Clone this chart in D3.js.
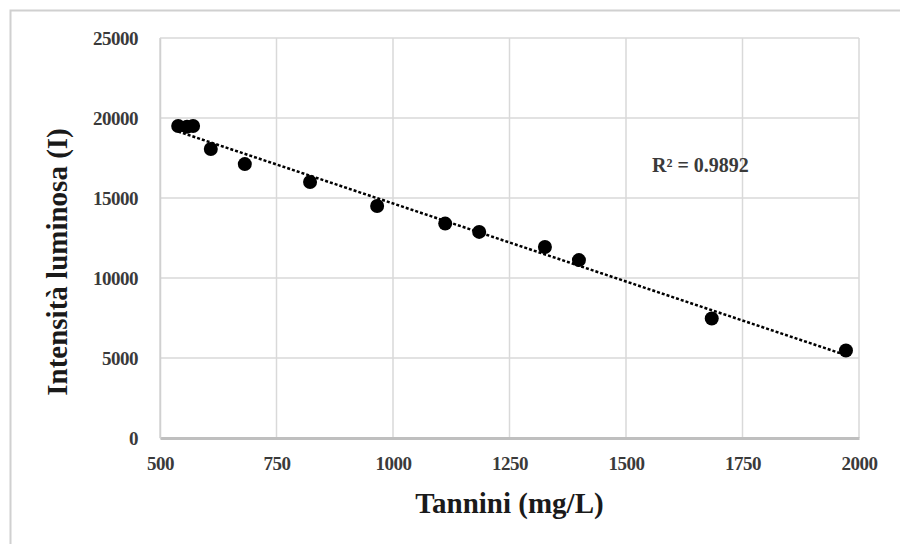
<!DOCTYPE html>
<html>
<head>
<meta charset="utf-8">
<script src="https://cdn.jsdelivr.net/npm/d3@7"></script>
<style>
  body { margin: 0; background: #fff; }
  svg { display: block; }
</style>
</head>
<body>
<div id="chart"></div>
<script>
// valori
const tannini = [539, 558, 571, 609, 682, 822, 966, 1112, 1185, 1326, 1399, 1684, 1972];
const intensita = [19500, 19450, 19500, 18060, 17120, 16000, 14500, 13400, 12880, 11940, 11120, 7470, 5470];
const xTicks = [500, 750, 1000, 1250, 1500, 1750, 2000];
const yTicks = [0, 5000, 10000, 15000, 20000, 25000];
const r2Label = "R² = 0.9892";

const width = 900, height = 544;
const plot = { left: 160, right: 859, top: 38, bottom: 438 };
const serif = "'Liberation Serif', 'Times New Roman', serif";

const svg = d3.select("#chart").append("svg")
    .attr("width", width)
    .attr("height", height);

// cornice esterna (solo lati sinistro e alto visibili)
svg.append("path")
    .attr("d", `M10.5,${height} L10.5,10.5 L${width},10.5`)
    .attr("fill", "none")
    .attr("stroke", "#d0d0d0")
    .attr("stroke-width", 2);

const x = d3.scaleLinear().domain([500, 2000]).range([plot.left, plot.right]);
const y = d3.scaleLinear().domain([0, 25000]).range([plot.bottom, plot.top]);

// griglia
svg.append("g")
    .selectAll("line")
    .data(xTicks)
    .enter().append("line")
    .attr("x1", d => x(d)).attr("x2", d => x(d))
    .attr("y1", plot.top).attr("y2", plot.bottom)
    .attr("stroke", "#d9d9d9").attr("stroke-width", 1.5);

svg.append("g")
    .selectAll("line")
    .data(yTicks)
    .enter().append("line")
    .attr("x1", plot.left).attr("x2", plot.right)
    .attr("y1", d => y(d)).attr("y2", d => y(d))
    .attr("stroke", "#d9d9d9").attr("stroke-width", 1.5);

// assi
const fmt = d3.format("d");
const xAxis = svg.append("g")
    .attr("transform", `translate(0,${plot.bottom})`)
    .call(d3.axisBottom(x).tickValues(xTicks).tickFormat(fmt).tickSize(0).tickPadding(19));
xAxis.select(".domain").attr("stroke", "#bfbfbf").attr("stroke-width", 3);

const yAxis = svg.append("g")
    .attr("transform", `translate(${plot.left},0)`)
    .call(d3.axisLeft(y).tickValues(yTicks).tickFormat(fmt).tickSize(0).tickPadding(22));
yAxis.select(".domain").attr("stroke", "#d0d0d0").attr("stroke-width", 1.5);

svg.selectAll(".tick text")
    .attr("font-family", serif)
    .attr("font-size", 19)
    .attr("font-weight", "bold")
    .attr("letter-spacing", -0.5)
    .attr("fill", "#3a3a3a");

// linea di tendenza (minimi quadrati)
const mx = d3.mean(tannini), my = d3.mean(intensita);
let sxy = 0, sxx = 0;
tannini.forEach((t, i) => { sxy += (t - mx) * (intensita[i] - my); sxx += (t - mx) * (t - mx); });
const slope = sxy / sxx, icpt = my - slope * mx;
const xMin = d3.min(tannini), xMax = d3.max(tannini);

svg.append("line")
    .attr("x1", x(xMin)).attr("y1", y(icpt + slope * xMin))
    .attr("x2", x(xMax)).attr("y2", y(icpt + slope * xMax))
    .attr("stroke", "#000")
    .attr("stroke-width", 2.5)
    .attr("stroke-dasharray", "3,2");

// punti
svg.append("g")
    .selectAll("circle")
    .data(tannini.map((t, i) => [t, intensita[i]]))
    .enter().append("circle")
    .attr("cx", d => x(d[0]))
    .attr("cy", d => y(d[1]))
    .attr("r", 7)
    .attr("fill", "#000");

// R²
svg.append("text")
    .attr("x", 652).attr("y", 172)
    .attr("font-family", serif)
    .attr("font-size", 20)
    .attr("font-weight", "bold")
    .attr("fill", "#3a3a3a")
    .text(r2Label);

// titoli assi
svg.append("text")
    .attr("x", (plot.left + plot.right) / 2)
    .attr("y", 513)
    .attr("text-anchor", "middle")
    .attr("font-family", serif)
    .attr("font-size", 29)
    .attr("font-weight", "bold")
    .attr("fill", "#1a1a1a")
    .text("Tannini (mg/L)");

svg.append("text")
    .attr("transform", "translate(67,262) rotate(-90)")
    .attr("text-anchor", "middle")
    .attr("font-family", serif)
    .attr("font-size", 29)
    .attr("font-weight", "bold")
    .attr("fill", "#1a1a1a")
    .text("Intensità luminosa (I)");
</script>
</body>
</html>
